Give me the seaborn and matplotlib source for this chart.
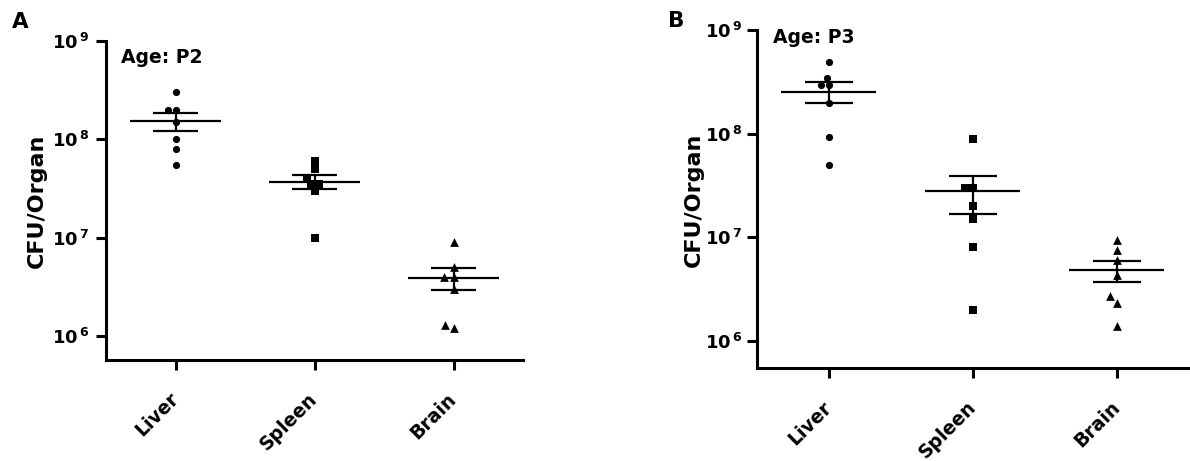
import numpy as np
import pandas as pd
import matplotlib
matplotlib.use("Agg")
import matplotlib.pyplot as plt
import seaborn as sns

# ---------------- data ----------------
organs = ["Liver", "Spleen", "Brain"]
organ_markers = ["o", "s", "^"]

p2_liver = [3.0e8, 2.0e8, 2.0e8, 1.5e8, 1.0e8, 8.0e7, 5.5e7]
p2_spleen = [6.0e7, 5.0e7, 4.0e7, 3.5e7, 3.5e7, 3.0e7, 1.0e7]
p2_brain = [9.0e6, 5.0e6, 4.0e6, 4.0e6, 3.0e6, 1.2e6, 1.3e6]

p3_liver = [5.0e8, 3.5e8, 3.0e8, 3.0e8, 2.0e8, 9.3e7, 5.0e7]
p3_spleen = [9.0e7, 3.0e7, 3.0e7, 2.0e7, 1.5e7, 8.0e6, 2.0e6]
p3_brain = [9.5e6, 7.6e6, 6.1e6, 4.3e6, 2.7e6, 2.35e6, 1.4e6]

ytick_exponents = [6, 7, 8, 9]
panel_letters = ["A", "B"]
age_labels = ["Age: P2", "Age: P3"]
y_label = "CFU/Organ"

panels = [
    {"Liver": p2_liver, "Spleen": p2_spleen, "Brain": p2_brain},
    {"Liver": p3_liver, "Spleen": p3_spleen, "Brain": p3_brain},
]

# ---------------- style ----------------
sns.set_style("ticks")
plt.rcParams["font.family"] = ["DejaVu Sans"]
plt.rcParams["font.weight"] = "bold"
plt.rcParams["mathtext.default"] = "bf"
for key in ["text.color", "axes.labelcolor", "xtick.color", "ytick.color",
            "axes.edgecolor"]:
    plt.rcParams[key] = "black"

fig = plt.figure(figsize=(11.9, 4.61), dpi=100)

# axes rectangles (figure fractions)
rects = [
    [0.0891, 0.219, 0.3504, 0.692],
    [0.6361, 0.2011, 0.3630, 0.7330],
]
ylims = [(10 ** 5.756, 1e9), (10 ** 5.736, 1e9)]
ylabel_x = [-0.1415, -0.1227]
age_pos = [(0.036, 0.930), (0.037, 0.962)]
letter_pos = [(0.0101, 0.9393), (0.5613, 0.9414)]
ytick_pad = [5, 3.5]
marker_sizes = {"o": 5.2, "s": 5.2, "^": 6.3}

for k, data in enumerate(panels):
    ax = fig.add_axes(rects[k])
    df = pd.DataFrame(
        [(org, v) for org in organs for v in data[org]], columns=["organ", "cfu"]
    )
    for org, mk in zip(organs, organ_markers):
        sub = df[df["organ"] == org]
        sns.swarmplot(
            data=sub, x="organ", y="cfu", order=organs, marker=mk,
            color="black", size=marker_sizes[mk], linewidth=0, ax=ax,
            log_scale=True,
        )

    # mean +/- SEM
    for i, org in enumerate(organs):
        vals = np.asarray(data[org], dtype=float)
        m = vals.mean()
        se = vals.std(ddof=1) / np.sqrt(len(vals))
        ax.hlines(m, i - 0.33, i + 0.33, color="black", lw=1.6, zorder=4)
        ax.vlines(i, m - se, m + se, color="black", lw=1.6, zorder=4)
        ax.hlines([m - se, m + se], i - 0.165, i + 0.165, color="black", lw=1.6, zorder=4)

    ax.set_xlim(-0.5, 2.5)
    ax.set_ylim(*ylims[k])
    ax.set_yticks([10.0 ** e for e in ytick_exponents])
    ax.set_yticklabels([r"$\mathbf{10^{\,%d}}$" % e for e in ytick_exponents])
    ax.yaxis.set_minor_locator(matplotlib.ticker.NullLocator())

    for side in ["top", "right"]:
        ax.spines[side].set_visible(False)
    for side in ["left", "bottom"]:
        ax.spines[side].set_linewidth(2.2)
        ax.spines[side].set_color("black")

    ax.tick_params(axis="y", direction="out", length=7, width=2.2,
                   labelsize=13, pad=ytick_pad[k], colors="black")
    ax.tick_params(axis="x", direction="out", length=7, width=2.2,
                   labelsize=13.5, pad=19, colors="black")
    ax.set_xticks(range(len(organs)))
    ax.set_xticklabels(organs)
    for lab in ax.get_xticklabels():
        lab.set_rotation(45)
        lab.set_ha("right")
        lab.set_va("center")
        lab.set_rotation_mode("anchor")
        lab.set_fontweight("bold")

    ax.set_xlabel("")
    ax.set_ylabel(y_label, fontsize=16, fontweight="bold")
    ax.yaxis.set_label_coords(ylabel_x[k], 0.5)

    ax.text(age_pos[k][0], age_pos[k][1], age_labels[k], transform=ax.transAxes,
            fontsize=13.5, fontweight="bold", ha="left", va="baseline")
    fig.text(letter_pos[k][0], letter_pos[k][1], panel_letters[k],
             fontsize=15.5, fontweight="bold", ha="left", va="baseline")

fig.savefig("out.png", dpi=100)
